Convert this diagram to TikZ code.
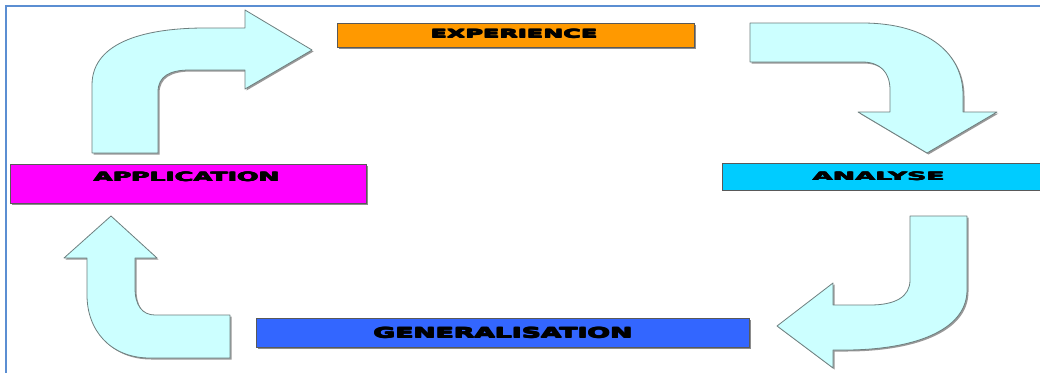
\documentclass[tikz,border=0pt]{standalone}
\usepackage{fontspec}
\setmainfont{DejaVu Sans}
\usepackage{graphicx}
\definecolor{expc}{HTML}{FF9900}
\definecolor{appc}{HTML}{FF00FF}
\definecolor{anac}{HTML}{00CCFF}
\definecolor{genc}{HTML}{3366FF}
\definecolor{arrc}{HTML}{CCFFFF}
\definecolor{arredge}{HTML}{6E7F7F}
\definecolor{framec}{HTML}{5B8ED2}
\newcommand{\lab}[3]{\resizebox{#1}{#2}{\bfseries
  \rlap{\kern0.045em #3}\rlap{\raise0.04em\hbox{#3}}\rlap{\kern0.045em\raise0.04em\hbox{#3}}#3\kern0.045em}}
\tikzset{
  box/.style={draw=black!65, line width=0.8pt, inner sep=0pt, rectangle},
  boxshadow/.style={fill=black!45},
  bigarrow/.style={fill=arrc, draw=arredge, line width=0.8pt, line join=round},
  arrshadow/.style={fill=black!40},
  lbl/.style={inner sep=0pt, text=black}
}
\begin{document}
\begin{tikzpicture}[x=1pt,y=-1pt]
\useasboundingbox (0,0) rectangle (1040,372);
\clip (0,0) rectangle (1040,372);
\fill[white] (0,0) rectangle (1040,372);
% frame
\draw[framec, line width=2pt] (6,380) -- (6,6) -- (1050,6);

% boxes with shadows
\fill[boxshadow] (339,25) rectangle (696,49);
\node[box, fill=expc, minimum width=357pt, minimum height=24pt] (exp) at (515.5,35) {};
\node[lbl] (expt) at (514,34) {\lab{168pt}{9pt}{EXPERIENCE}};

\fill[boxshadow] (12,166) rectangle (368,205);
\node[box, fill=appc, minimum width=356pt, minimum height=39pt] (app) at (188,183.5) {};
\node[lbl] (appt) at (186.5,177) {\lab{187pt}{10pt}{APPLICATION}};

\node[box, fill=anac, minimum width=330pt, minimum height=27pt] (ana) at (887,176.5) {};
\node[lbl] (anat) at (878.5,176.5) {\lab{133pt}{9pt}{ANALYSE}};

\fill[boxshadow] (258,320) rectangle (751,349);
\node[box, fill=genc, minimum width=493pt, minimum height=29pt] (gen) at (502.5,332.5) {};
\node[lbl] (gent) at (503,333) {\lab{260pt}{11pt}{GENERALISATION}};

% arrow 1: application -> experience
\begin{scope}[shift={(1.5,1.5)}]
\fill[arrshadow] (92,153) -- (92,85) .. controls (92,40) and (150,28) .. (205,28) -- (245,28) -- (245,10) -- (312,50) -- (245,89) -- (245,70) -- (190,70) .. controls (170,70) and (158,76) .. (158,92) -- (158,153) -- cycle;
\end{scope}
\path[bigarrow] (92,153) -- (92,85) .. controls (92,40) and (150,28) .. (205,28) -- (245,28) -- (245,10) -- (312,50) -- (245,89) -- (245,70) -- (190,70) .. controls (170,70) and (158,76) .. (158,92) -- (158,153) -- cycle;

% arrow 2: experience -> analyse
\begin{scope}[shift={(1.5,1.5)}]
\fill[arrshadow] (750,23) -- (862,23) .. controls (930,23) and (963,55) .. (963,95) -- (963,112) -- (997,112) -- (927,153) -- (858,112) -- (890,112) -- (890,90) .. controls (890,72) and (880,62) .. (862,62) -- (750,62) -- cycle;
\end{scope}
\path[bigarrow] (750,23) -- (862,23) .. controls (930,23) and (963,55) .. (963,95) -- (963,112) -- (997,112) -- (927,153) -- (858,112) -- (890,112) -- (890,90) .. controls (890,72) and (880,62) .. (862,62) -- (750,62) -- cycle;

% arrow 3: analyse -> generalisation
\begin{scope}[shift={(1.5,1.5)}]
\fill[arrshadow] (910,216) -- (967,216) -- (967,290) .. controls (967,332) and (910,350) .. (845,350) -- (833,350) -- (833,368) -- (777,326) -- (833,283) -- (833,305) -- (870,305) .. controls (895,305) and (910,297) .. (910,280) -- cycle;
\end{scope}
\path[bigarrow] (910,216) -- (967,216) -- (967,290) .. controls (967,332) and (910,350) .. (845,350) -- (833,350) -- (833,368) -- (777,326) -- (833,283) -- (833,305) -- (870,305) .. controls (895,305) and (910,297) .. (910,280) -- cycle;

% arrow 4: generalisation -> application
\begin{scope}[shift={(1.5,1.5)}]
\fill[arrshadow] (230,315) -- (230,358) -- (150,358) .. controls (110,358) and (87,330) .. (87,295) -- (87,258) -- (64,258) -- (111,216) -- (157,258) -- (135,258) -- (135,288) .. controls (135,305) and (142,315) .. (155,315) -- cycle;
\end{scope}
\path[bigarrow] (230,315) -- (230,358) -- (150,358) .. controls (110,358) and (87,330) .. (87,295) -- (87,258) -- (64,258) -- (111,216) -- (157,258) -- (135,258) -- (135,288) .. controls (135,305) and (142,315) .. (155,315) -- cycle;
\end{tikzpicture}
\end{document}
